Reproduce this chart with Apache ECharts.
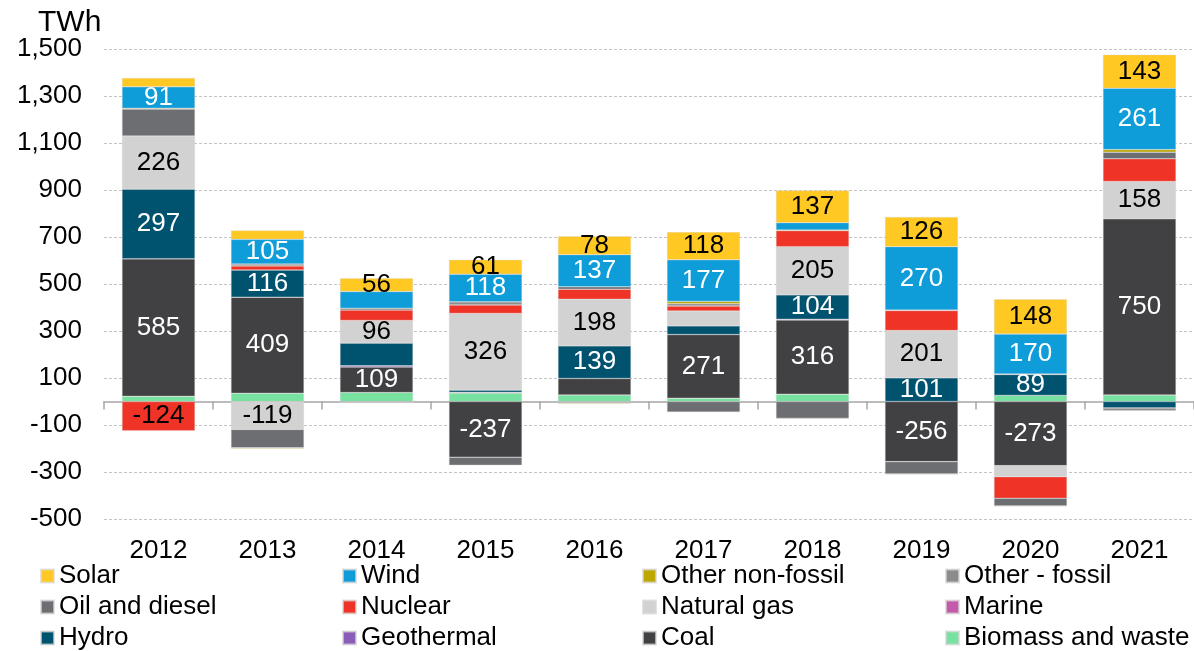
<!DOCTYPE html>
<html>
<head>
<meta charset="utf-8">
<script src="https://cdn.jsdelivr.net/npm/echarts@6.0.0/dist/echarts.min.js"></script>
<style>
  html, body { margin: 0; padding: 0; background: #fff; }
  #main { width: 1194px; height: 651px; }
</style>
</head>
<body>
<div id="main"></div>
<script>
// years and tick values
var years = ['2012', '2013', '2014', '2015', '2016', '2017', '2018', '2019', '2020', '2021'];
var yTicks = [-500, -300, -100, 100, 300, 500, 700, 900, 1100, 1300, 1500];

// change in generation, TWh (stack order bottom -> top)
var biomass      = [22, 35, 38, 36, 28, 14, 31, 0, 26, 28];
var coal         = [585, 409, 109, -237, 70, 271, 316, -256, -273, 750];
var geothermal   = [0, 0, 5, 3, 0, 0, 3, 0, 0, 0];
var hydro        = [297, 116, 97, 10, 139, 37, 104, 101, 89, -28];
var marine       = [0, 0, 0, 0, 0, 0, 0, 0, 0, 0];
var naturalGas   = [226, -119, 96, 326, 198, 63, 205, 201, -47, 158];
var nuclear      = [-124, 17, 44, 36, 43, 21, 68, 85, -92, 97];
var oilDiesel    = [115, -78, 8, -34, 10, -45, -72, -53, -33, 28];
var otherFossil  = [0, 8, -5, 13, -5, 10, 0, 0, 0, -11];
var otherNonFoss = [3, -3, 0, 0, -4, 10, 3, 2, 2, 11];
var wind         = [91, 105, 71, 118, 137, 177, 31, 270, 170, 261];
var solar        = [38, 38, 56, 61, 78, 118, 137, 126, 148, 143];

// which segments carry a value label
var showSolar   = ['2014', '2015', '2016', '2017', '2018', '2019', '2020', '2021'];
var showWind    = ['2012', '2013', '2015', '2016', '2017', '2019', '2020', '2021'];
var showGas     = ['2012', '2013', '2014', '2015', '2016', '2018', '2019', '2021'];
var showHydro   = ['2012', '2013', '2016', '2018', '2019', '2020'];
var showCoal    = ['2012', '2013', '2014', '2015', '2017', '2018', '2019', '2020', '2021'];
var showNuclear = ['2012'];

var FONT = '"Liberation Sans", Arial, sans-serif';

function mkData(values, shown) {
  return values.map(function (v, i) {
    var item = { value: v };
    if (shown && shown.indexOf(years[i]) >= 0) {
      item.label = { show: true };
    }
    return item;
  });
}

function mkSeries(name, values, color, shown, labelColor) {
  return {
    name: name,
    type: 'bar',
    stack: 'total',
    barWidth: 73,
    xAxisIndex: 0,
    data: mkData(values, shown),
    itemStyle: { color: color, borderColor: 'rgba(215,215,215,0.7)', borderWidth: 0.5 },
    label: {
      show: false,
      position: 'inside',
      color: labelColor || '#000',
      fontFamily: FONT,
      fontSize: 26
    },
    emphasis: { disabled: true }
  };
}

var series = [
  mkSeries('Biomass and waste', biomass, '#77e1a0'),
  mkSeries('Coal', coal, '#414042', showCoal, '#fff'),
  mkSeries('Geothermal', geothermal, '#8b5db8'),
  mkSeries('Hydro', hydro, '#00536f', showHydro, '#fff'),
  mkSeries('Marine', marine, '#c45baa'),
  mkSeries('Natural gas', naturalGas, '#d2d2d2', showGas, '#000'),
  mkSeries('Nuclear', nuclear, '#ef3326', showNuclear, '#000'),
  mkSeries('Oil and diesel', oilDiesel, '#6d6e71'),
  mkSeries('Other - fossil', otherFossil, '#8c8c8c'),
  mkSeries('Other non-fossil', otherNonFoss, '#bca800'),
  mkSeries('Wind', wind, '#0e9dd9', showWind, '#fff'),
  mkSeries('Solar', solar, '#ffc823', showSolar, '#000')
];

var legendCols = [
  { left: 40, names: ['Solar', 'Oil and diesel', 'Hydro'] },
  { left: 342, names: ['Wind', 'Nuclear', 'Geothermal'] },
  { left: 642, names: ['Other non-fossil', 'Natural gas', 'Coal'] },
  { left: 945, names: ['Other - fossil', 'Marine', 'Biomass and waste'] }
];

var legends = legendCols.map(function (c) {
  return {
    orient: 'vertical',
    left: c.left,
    top: 563,
    height: 88,
    padding: 0,
    itemWidth: 13,
    itemHeight: 13,
    itemGap: 5,
    icon: 'rect',
    selectedMode: false,
    data: c.names,
    textStyle: { fontFamily: FONT, fontSize: 26, color: '#000', lineHeight: 26 }
  };
});

var option = {
  animation: false,
  textStyle: { fontFamily: FONT },
  title: {
    text: 'TWh',
    left: 33,
    top: 3,
    textStyle: { fontFamily: FONT, fontSize: 30, fontWeight: 'normal', color: '#000' }
  },
  legend: legends,
  grid: { left: 104, right: -3, top: 49, bottom: 132, containLabel: false },
  xAxis: [
    {
      type: 'category',
      data: years,
      position: 'bottom',
      axisLine: { show: false, onZero: false },
      axisTick: { show: false },
      axisLabel: { fontFamily: FONT, fontSize: 26, color: '#000', margin: 19 },
      splitLine: { show: false }
    },
    {
      type: 'category',
      data: years,
      position: 'top',
      axisLine: { show: true, onZero: true, lineStyle: { color: '#a6a6a6', width: 1.5 } },
      axisTick: { show: true, inside: true, length: 8, lineStyle: { color: '#a6a6a6', width: 1.5 } },
      axisLabel: { show: false },
      splitLine: { show: false }
    }
  ],
  yAxis: {
    type: 'value',
    min: -500,
    max: 1500,
    axisLine: { show: false },
    axisTick: { show: false, customValues: yTicks },
    axisLabel: {
      customValues: yTicks,
      fontFamily: FONT,
      fontSize: 26,
      color: '#000',
      margin: 22,
      formatter: function (v) { return v.toLocaleString('en-US'); }
    },
    splitLine: { show: true, lineStyle: { color: '#c4c4c4', type: [3, 2], width: 1 } }
  },
  series: series
};

var chart = echarts.init(document.getElementById('main'), null, { renderer: 'canvas' });
chart.setOption(option);
</script>
</body>
</html>
